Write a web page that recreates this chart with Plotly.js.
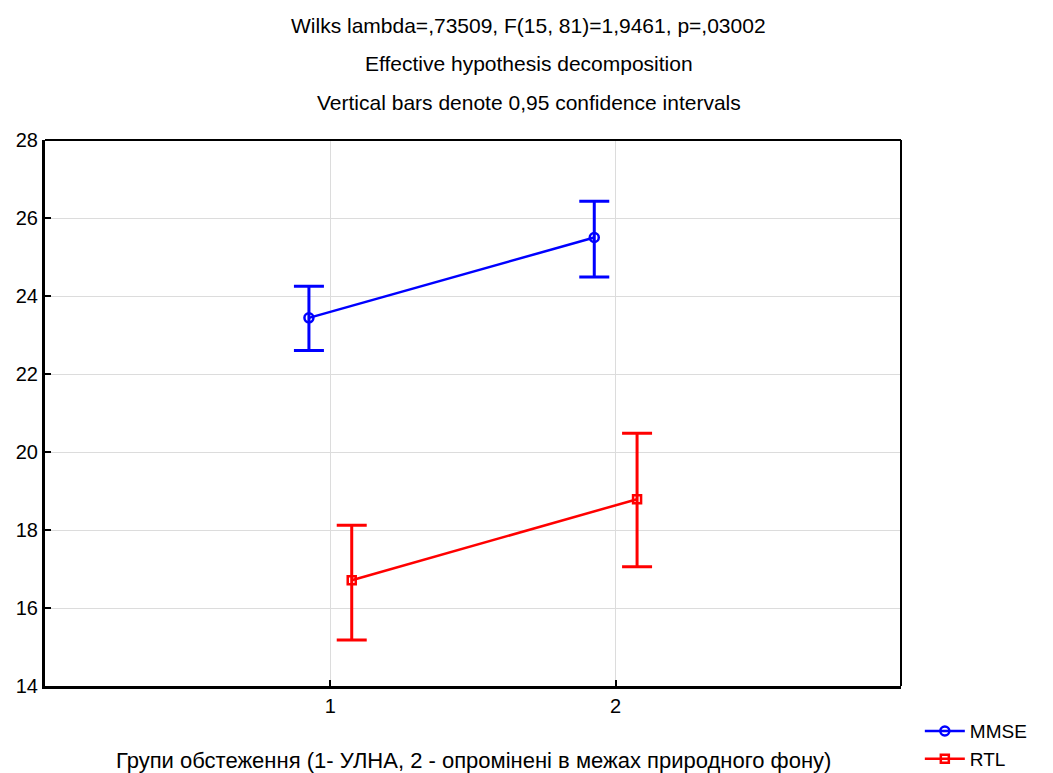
<!DOCTYPE html>
<html>
<head>
<meta charset="utf-8">
<script src="https://cdn.plot.ly/plotly-3.0.1.min.js"></script>
<style>html,body{margin:0;padding:0;background:#fff;}#chart{width:1053px;height:773px;}</style>
</head>
<body>
<div id="chart"></div>
<script>
const groups = [1, 2];
const groupLabels = ["1", "2"];
const mmseMean = [23.44, 25.50];
const mmseUpper = [24.25, 26.43];
const mmseLower = [22.60, 24.49];
const rtlMean = [16.71, 18.79];
const rtlUpper = [18.12, 20.48];
const rtlLower = [15.18, 17.06];
const yTicks = [14, 16, 18, 20, 22, 24, 26, 28];
const titleLines = [
  "Wilks lambda=,73509, F(15, 81)=1,9461, p=,03002",
  "Effective hypothesis decomposition",
  "Vertical bars denote 0,95 confidence intervals"
];
const xTitle = "Групи обстеження (1- УЛНА, 2 - опромінені в межах природного фону)";

const FONT = "Liberation Sans, Arial, sans-serif";
const off = 0.075;

function mk(name, mean, up, lo, shift, color, symbol, size) {
  return {
    type: "scatter",
    mode: "lines+markers",
    name: name,
    x: groups.map(g => g + shift),
    y: mean,
    line: {color: color, width: 2.5},
    marker: {symbol: symbol, size: size, color: color, line: {color: color, width: 2.5}},
    error_y: {
      type: "data", symmetric: false,
      array: up.map((u, i) => u - mean[i]),
      arrayminus: lo.map((l, i) => mean[i] - l),
      color: color, thickness: 3, width: 15
    }
  };
}

const data = [
  mk("MMSE", mmseMean, mmseUpper, mmseLower, -off, "#0000ff", "circle-open", 9),
  mk("RTL", rtlMean, rtlUpper, rtlLower, off, "#ff0000", "square-open", 8)
];

const layout = {
  width: 1053, height: 773,
  paper_bgcolor: "#fff", plot_bgcolor: "#fff",
  margin: {l: 45, r: 152, t: 140, b: 87, autoexpand: false},
  font: {family: FONT, size: 20, color: "#000"},
  showlegend: true,
  legend: {
    x: 1.022, xanchor: "left", y: -0.048, yanchor: "top",
    font: {family: FONT, size: 19, color: "#000"},
    tracegroupgap: 0, itemwidth: 40, bgcolor: "rgba(0,0,0,0)"
  },
  xaxis: {
    range: [0, 3], tickvals: groups, ticktext: groupLabels,
    showgrid: true, gridcolor: "#dcdcdc", gridwidth: 1,
    zeroline: false, showline: true, linecolor: "#000", linewidth: 3,
    ticks: "inside", ticklen: 6, tickwidth: 2, tickcolor: "#000",
    tickfont: {family: FONT, size: 20}, automargin: false
  },
  yaxis: {
    range: [14, 28], tickvals: yTicks,
    showgrid: true, gridcolor: "#dcdcdc", gridwidth: 1,
    zeroline: false, showline: true, linecolor: "#000", linewidth: 3,
    ticks: "inside", ticklen: 6, tickwidth: 2, tickcolor: "#000",
    tickfont: {family: FONT, size: 20}, automargin: false
  },
  shapes: [
    {type: "line", xref: "paper", yref: "paper", x0: 0, x1: 1, y0: 1, y1: 1, line: {color: "#000", width: 2}},
    {type: "line", xref: "paper", yref: "paper", x0: 1, x1: 1, y0: 0, y1: 1, line: {color: "#000", width: 2}}
  ],
  annotations: titleLines.map((t, i) => ({
    text: t, xref: "paper", yref: "paper", x: 0.565, y: 1, xanchor: "center", yanchor: "middle",
    yshift: 115 - i * 38.5, showarrow: false, font: {family: FONT, size: 21, color: "#000"}
  })).concat([{
    text: xTitle, xref: "paper", yref: "paper", x: 0.5, y: 0, xanchor: "center", yanchor: "middle",
    yshift: -74, showarrow: false, font: {family: FONT, size: 22, color: "#000"}
  }])
};

Plotly.newPlot("chart", data, layout, {displayModeBar: false, staticPlot: true});
</script>
</body>
</html>
